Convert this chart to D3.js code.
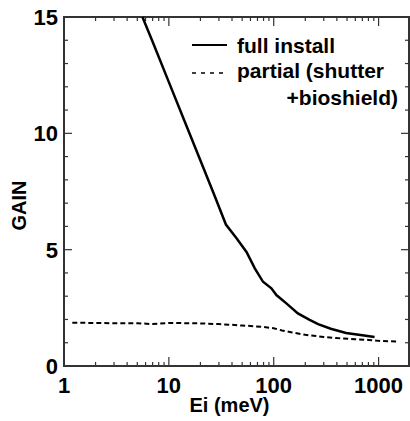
<!DOCTYPE html>
<html>
<head>
<meta charset="utf-8">
<script src="https://d3js.org/d3.v7.min.js"></script>
<style>
  body { margin: 0; background: #fff; }
  svg { display: block; }
  text { font-family: "Liberation Sans", Arial, Helvetica, sans-serif; font-weight: bold; fill: #000; }
</style>
</head>
<body>
<div id="chart"></div>
<script>
// full install: Ei (meV), gain
var fullEi   = [5.6, 7, 10, 15, 20, 27, 35, 44, 55, 66, 79, 95, 106, 132, 170, 220, 265, 350, 490, 700, 915];
var fullGain = [15, 13.94, 12.2, 10.23, 8.83, 7.37, 6.08, 5.5, 4.9, 4.2, 3.62, 3.34, 3.05, 2.69, 2.26, 1.98, 1.8, 1.6, 1.42, 1.32, 1.25];

// partial (shutter + bioshield)
var partEi   = [1.2, 2, 3, 5, 7, 10, 15, 20, 30, 40, 50, 60, 80, 100, 120, 150, 200, 300, 400, 600, 800, 1000, 1500];
var partGain = [1.86, 1.85, 1.84, 1.84, 1.8, 1.85, 1.84, 1.83, 1.8, 1.77, 1.74, 1.72, 1.68, 1.62, 1.53, 1.44, 1.34, 1.25, 1.2, 1.15, 1.12, 1.08, 1.05];

var xMajor = [1, 10, 100, 1000];
var yMajor = [0, 5, 10, 15];

var margin = {top: 17, right: 1, bottom: 55, left: 64};
var W = 410, H = 421;
var width = W - margin.left - margin.right;
var height = H - margin.top - margin.bottom;

var svg = d3.select("#chart").append("svg")
    .attr("width", W).attr("height", H)
  .append("g")
    .attr("transform", "translate(" + margin.left + "," + margin.top + ")");

var x = d3.scaleLog().domain([1, 1950]).range([0, width]);
var y = d3.scaleLinear().domain([0, 15]).range([height, 0]);

// minor ticks on x
var xMinor = [];
[1, 10, 100, 1000].forEach(function(d) {
    for (var k = 2; k <= 9; k++) if (d * k < 1950) xMinor.push(d * k);
});
var yMinor = d3.range(0, 16).filter(function(v) { return v % 5 != 0; });

var axCol = "#333";

// x ticks, bottom and top, pointing inward
svg.selectAll(".xmin").data(xMinor).enter().append("line")
    .attr("x1", d => x(d)).attr("x2", d => x(d))
    .attr("y1", height).attr("y2", height - 4)
    .attr("stroke", axCol).attr("stroke-width", 1.2);
svg.selectAll(".xmaj").data(xMajor).enter().append("line")
    .attr("x1", d => x(d)).attr("x2", d => x(d))
    .attr("y1", height).attr("y2", height - 9)
    .attr("stroke", axCol).attr("stroke-width", 1.2);
svg.selectAll(".xmint").data(xMinor).enter().append("line")
    .attr("x1", d => x(d)).attr("x2", d => x(d))
    .attr("y1", 0).attr("y2", 4)
    .attr("stroke", axCol).attr("stroke-width", 1.2);
svg.selectAll(".xmajt").data(xMajor).enter().append("line")
    .attr("x1", d => x(d)).attr("x2", d => x(d))
    .attr("y1", 0).attr("y2", 9)
    .attr("stroke", axCol).attr("stroke-width", 1.2);

// y ticks, left and right
[[0, 1], [width, -1]].forEach(function(side) {
    svg.selectAll(null).data(yMinor).enter().append("line")
        .attr("x1", side[0]).attr("x2", side[0] + side[1] * 4)
        .attr("y1", d => y(d)).attr("y2", d => y(d))
        .attr("stroke", axCol).attr("stroke-width", 1.2);
    svg.selectAll(null).data(yMajor).enter().append("line")
        .attr("x1", side[0]).attr("x2", side[0] + side[1] * 8)
        .attr("y1", d => y(d)).attr("y2", d => y(d))
        .attr("stroke", axCol).attr("stroke-width", 1.2);
});

// frame
svg.append("rect")
    .attr("x", 0).attr("y", 0)
    .attr("width", width).attr("height", height)
    .attr("fill", "none").attr("stroke", axCol).attr("stroke-width", 2);

// tick labels
svg.selectAll(".xl").data(xMajor).enter().append("text")
    .attr("x", d => x(d)).attr("y", height + 27)
    .attr("text-anchor", "middle")
    .style("font-size", "22px")
    .text(d => d);
svg.selectAll(".yl").data(yMajor).enter().append("text")
    .attr("x", -6).attr("y", d => y(d) + 8)
    .attr("text-anchor", "end")
    .style("font-size", "22px")
    .text(d => d);

// axis titles
svg.append("text")
    .attr("x", width / 2 - 7).attr("y", height + 46)
    .attr("text-anchor", "middle")
    .style("font-size", "20px")
    .text("Ei (meV)");
svg.append("text")
    .attr("transform", "translate(" + (-38) + "," + (height / 2 + 14) + ")rotate(-90)")
    .attr("text-anchor", "middle")
    .style("font-size", "20px")
    .text("GAIN");

// lines
var line = d3.line().x(d => x(d[0])).y(d => y(d[1]));
var fullData = fullEi.map((e, i) => [e, fullGain[i]]);
var partData = partEi.map((e, i) => [e, partGain[i]]);

svg.append("path").datum(fullData)
    .attr("d", line)
    .attr("fill", "none").attr("stroke", "#000").attr("stroke-width", 2.5);
svg.append("path").datum(partData)
    .attr("d", line)
    .attr("fill", "none").attr("stroke", "#000").attr("stroke-width", 2)
    .attr("stroke-dasharray", "5,3");

// legend
var lg = svg.append("g");
lg.append("line")
    .attr("x1", 128).attr("x2", 163).attr("y1", 28).attr("y2", 28)
    .attr("stroke", "#000").attr("stroke-width", 2);
lg.append("text").attr("x", 173).attr("y", 36)
    .style("font-size", "21px").text("full install");
lg.append("line")
    .attr("x1", 128).attr("x2", 163).attr("y1", 56).attr("y2", 56)
    .attr("stroke", "#000").attr("stroke-width", 1.5)
    .attr("stroke-dasharray", "4,5");
lg.append("text").attr("x", 173).attr("y", 61)
    .style("font-size", "21px").text("partial (shutter");
lg.append("text").attr("x", 334).attr("y", 88)
    .attr("text-anchor", "end")
    .style("font-size", "21px").text("+bioshield)");
</script>
</body>
</html>
